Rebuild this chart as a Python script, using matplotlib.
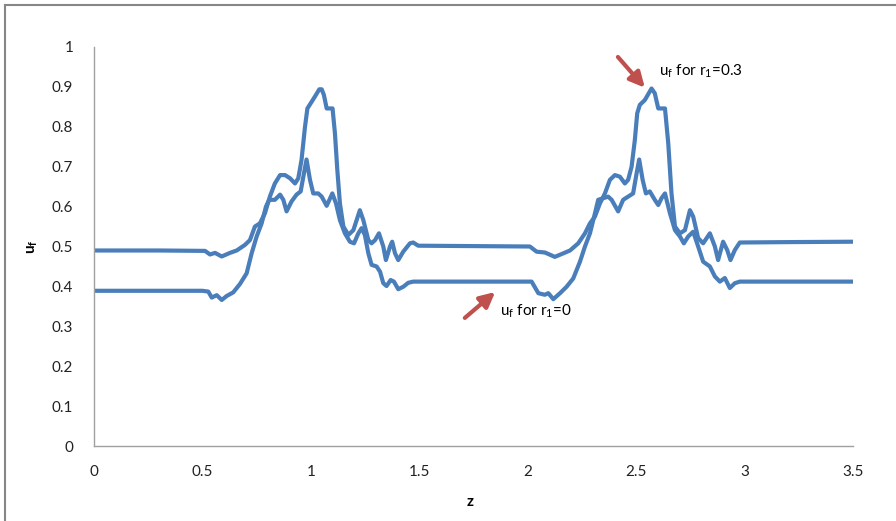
import matplotlib
matplotlib.use("Agg")
import matplotlib.pyplot as plt
from matplotlib.lines import Line2D

plt.rcParams['font.family'] = ['Lato', 'DejaVu Sans']

# u_f for r1 = 0.3 (upper baseline, tall peak)
z_hi = [0, 0.3, 0.512, 0.535, 0.558, 0.589, 0.627, 0.658, 0.696, 0.719, 0.742, 0.765,
        0.788, 0.811, 0.834, 0.858, 0.881, 0.904, 0.927, 0.942, 0.957, 0.973, 0.984,
        1.004, 1.019, 1.039, 1.050, 1.060, 1.073, 1.100, 1.111, 1.122, 1.134, 1.150,
        1.173, 1.196, 1.211, 1.226, 1.242, 1.265, 1.280, 1.296, 1.314, 1.334, 1.346,
        1.365, 1.375, 1.388, 1.403, 1.426, 1.457, 1.472, 1.495, 1.75, 2.010, 2.041,
        2.079, 2.125, 2.156, 2.195, 2.233, 2.264, 2.287, 2.310, 2.333, 2.356, 2.379,
        2.402, 2.425, 2.448, 2.463, 2.479, 2.494, 2.505, 2.517, 2.540, 2.571, 2.586,
        2.602, 2.633, 2.648, 2.663, 2.679, 2.702, 2.725, 2.748, 2.763, 2.786, 2.809,
        2.840, 2.863, 2.878, 2.901, 2.920, 2.935, 2.955, 2.978, 3.2, 3.5]
u_hi = [0.490, 0.490, 0.489, 0.480, 0.484, 0.475, 0.484, 0.490, 0.504, 0.516, 0.550, 0.558,
        0.583, 0.625, 0.658, 0.679, 0.679, 0.671, 0.658, 0.671, 0.717, 0.800, 0.846,
        0.863, 0.876, 0.894, 0.894, 0.880, 0.846, 0.846, 0.784, 0.692, 0.608, 0.550,
        0.529, 0.541, 0.566, 0.591, 0.566, 0.516, 0.508, 0.516, 0.533, 0.500, 0.466,
        0.500, 0.512, 0.483, 0.466, 0.487, 0.508, 0.510, 0.502, 0.501, 0.500, 0.487,
        0.485, 0.474, 0.481, 0.490, 0.508, 0.533, 0.558, 0.575, 0.608, 0.633, 0.667,
        0.679, 0.675, 0.658, 0.667, 0.700, 0.767, 0.834, 0.855, 0.867, 0.896, 0.884,
        0.846, 0.846, 0.759, 0.633, 0.550, 0.533, 0.541, 0.591, 0.575, 0.521, 0.508,
        0.533, 0.500, 0.466, 0.512, 0.491, 0.466, 0.491, 0.510, 0.511, 0.512]

# u_f for r1 = 0 (lower baseline)
z_lo = [0, 0.3, 0.50, 0.527, 0.543, 0.566, 0.589, 0.612, 0.642, 0.673, 0.704, 0.727,
        0.750, 0.773, 0.793, 0.808, 0.834, 0.858, 0.873, 0.888, 0.911, 0.934, 0.953,
        0.968, 0.980, 0.996, 1.011, 1.034, 1.050, 1.073, 1.099, 1.116, 1.134, 1.157,
        1.180, 1.199, 1.219, 1.234, 1.249, 1.265, 1.280, 1.303, 1.319, 1.334, 1.349,
        1.368, 1.383, 1.403, 1.426, 1.449, 1.472, 1.75, 2.018, 2.049, 2.079, 2.095,
        2.118, 2.149, 2.179, 2.210, 2.241, 2.264, 2.287, 2.310, 2.325, 2.348, 2.371,
        2.387, 2.417, 2.440, 2.463, 2.486, 2.502, 2.514, 2.530, 2.545, 2.563, 2.586,
        2.602, 2.617, 2.633, 2.656, 2.679, 2.702, 2.720, 2.740, 2.763, 2.786, 2.809,
        2.840, 2.863, 2.886, 2.909, 2.932, 2.955, 2.978, 3.2, 3.5]
u_lo = [0.389, 0.389, 0.389, 0.387, 0.372, 0.378, 0.366, 0.376, 0.385, 0.406, 0.433, 0.483,
        0.525, 0.558, 0.600, 0.617, 0.617, 0.630, 0.617, 0.588, 0.613, 0.630, 0.638,
        0.683, 0.718, 0.667, 0.633, 0.633, 0.625, 0.602, 0.633, 0.608, 0.566, 0.533,
        0.512, 0.508, 0.533, 0.546, 0.529, 0.483, 0.454, 0.450, 0.437, 0.408, 0.401,
        0.416, 0.412, 0.393, 0.399, 0.409, 0.412, 0.412, 0.412, 0.383, 0.379, 0.383,
        0.368, 0.383, 0.399, 0.420, 0.462, 0.500, 0.533, 0.583, 0.617, 0.621, 0.625,
        0.617, 0.588, 0.617, 0.625, 0.633, 0.683, 0.718, 0.667, 0.633, 0.638, 0.617,
        0.604, 0.621, 0.633, 0.583, 0.541, 0.525, 0.508, 0.525, 0.537, 0.500, 0.462,
        0.450, 0.425, 0.412, 0.421, 0.396, 0.408, 0.412, 0.412, 0.412]

x_ticks = [0, 0.5, 1, 1.5, 2, 2.5, 3, 3.5]
x_labels = ['0', '0.5', '1', '1.5', '2', '2.5', '3', '3.5']
y_ticks = [0, 0.1, 0.2, 0.3, 0.4, 0.5, 0.6, 0.7, 0.8, 0.9, 1]
y_labels = ['0', '0.1', '0.2', '0.3', '0.4', '0.5', '0.6', '0.7', '0.8', '0.9', '1']

W, H = 896, 521
fig = plt.figure(figsize=(W / 100, H / 100), dpi=100)
ax = fig.add_axes([94 / W, 1 - 446 / H, (853 - 94) / W, (446 - 47) / H])

line_col = '#4a7ebb'
ax.plot(z_hi, u_hi, color=line_col, lw=3.0, solid_joinstyle='round')
ax.plot(z_lo, u_lo, color=line_col, lw=3.0, solid_joinstyle='round')

ax.set_xlim(0, 3.5)
ax.set_ylim(0, 1)
ax.set_xticks(x_ticks)
ax.set_xticklabels(x_labels)
ax.set_yticks(y_ticks)
ax.set_yticklabels(y_labels)
ax.tick_params(length=0, labelsize=11, colors='#222222')
ax.tick_params(axis='x', pad=14)
ax.tick_params(axis='y', pad=15)
for s in ['top', 'right']:
    ax.spines[s].set_visible(False)
for s in ['left', 'bottom']:
    ax.spines[s].set_color('#a0a0a0')
    ax.spines[s].set_linewidth(1.0)

# axis titles
fig.text(470 / W, 1 - 502 / H, 'z', fontsize=11, fontweight='bold', ha='center', va='center')
fig.text(33 / W, 1 - 247 / H, r'u$_\mathregular{f}$', fontsize=11, fontweight='bold',
         rotation=90, ha='center', va='center')

# annotations
arrow_col = '#c0504d'
astyle = '-|>,head_length=0.9,head_width=0.45'
ax.annotate('', xy=(2.54, 0.898), xytext=(2.416, 0.975),
            arrowprops=dict(arrowstyle=astyle, color=arrow_col, lw=3, shrinkA=0, shrinkB=0))
ax.annotate('', xy=(1.85, 0.386), xytext=(1.71, 0.321),
            arrowprops=dict(arrowstyle=astyle, color=arrow_col, lw=3, shrinkA=0, shrinkB=0))
ax.text(2.606, 0.94, r'u$_\mathregular{f}$ for r$_\mathregular{1}$=0.3', fontsize=11,
        ha='left', va='center')
ax.text(1.872, 0.337, r'u$_\mathregular{f}$ for r$_\mathregular{1}$=0', fontsize=11,
        ha='left', va='center')

# chart frame
fc = '#868686'
fig.add_artist(Line2D([5 / W, 5 / W], [0, 1 - 5 / H], transform=fig.transFigure, color=fc, lw=1.5))
fig.add_artist(Line2D([5 / W, 1], [1 - 5 / H, 1 - 5 / H], transform=fig.transFigure, color=fc, lw=1.5))

fig.savefig('out.png', dpi=100)
